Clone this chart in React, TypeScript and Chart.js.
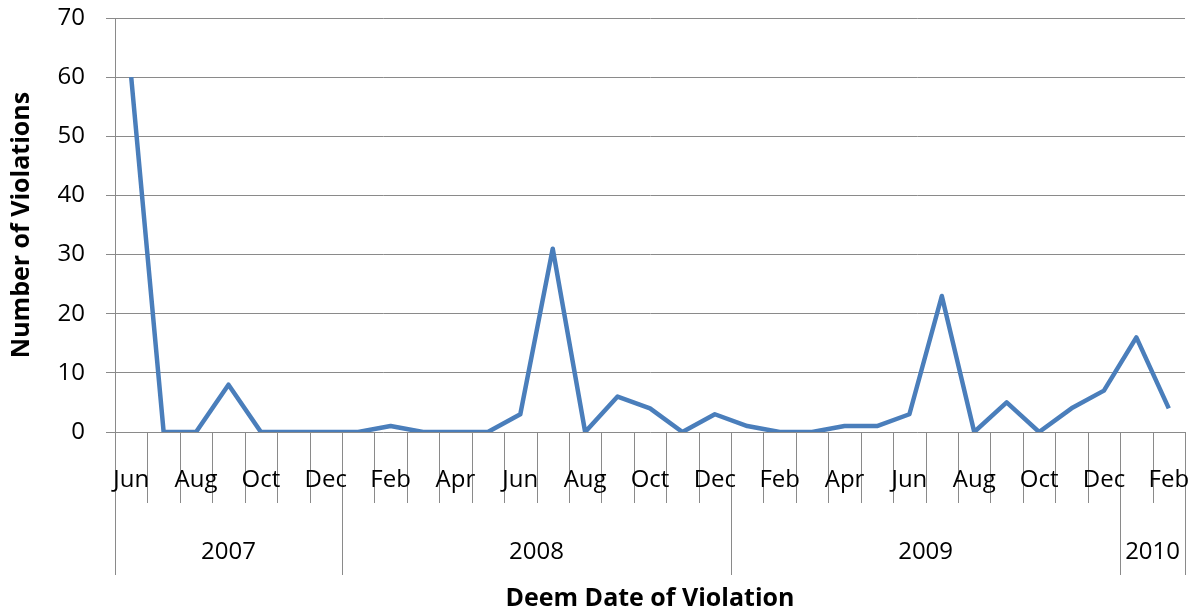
import React, { useEffect, useRef } from "react";
import { Chart, registerables } from "chart.js";

Chart.register(...registerables);

const months = [
  "Jun", "Jul", "Aug", "Sep", "Oct", "Nov", "Dec",
  "Jan", "Feb", "Mar", "Apr", "May", "Jun", "Jul", "Aug", "Sep", "Oct", "Nov", "Dec",
  "Jan", "Feb", "Mar", "Apr", "May", "Jun", "Jul", "Aug", "Sep", "Oct", "Nov", "Dec",
  "Jan", "Feb",
];
const years = ["2007", "2008", "2009", "2010"];
const monthsPerYear = [7, 12, 12, 2];
const violations = [
  60, 0, 0, 8, 0, 0, 0,
  0, 1, 0, 0, 0, 3, 31, 0, 6, 4, 0, 3,
  1, 0, 0, 1, 1, 3, 23, 0, 5, 0, 4, 7,
  16, 4,
];
const yTicks = [0, 10, 20, 30, 40, 50, 60, 70];

const FONT = "'Open Sans', 'DejaVu Sans', sans-serif";
const GRID = "#8a8a8a";
const FS = 24;
const TFS = 25;

const axisDecor = {
  id: "axisDecor",
  afterDraw(chart: any) {
    const { ctx, chartArea } = chart;
    const x = chart.scales.x;
    const n = months.length;
    const half = (x.getPixelForValue(1) - x.getPixelForValue(0)) / 2;
    const boundary = (i: number) =>
      i < n ? x.getPixelForValue(i) - half : x.getPixelForValue(n - 1) + half;
    const yearEdges = new Set<number>();
    let acc = 0;
    yearEdges.add(0);
    monthsPerYear.forEach((c) => {
      acc += c;
      yearEdges.add(acc);
    });
    const base = chartArea.bottom;
    ctx.save();
    ctx.strokeStyle = GRID;
    ctx.lineWidth = 1;
    for (let i = 0; i <= n; i++) {
      const px = Math.round(boundary(i)) + 0.5;
      const end = yearEdges.has(i) ? base + 143 : base + 71;
      ctx.beginPath();
      ctx.moveTo(px, base);
      ctx.lineTo(px, end);
      ctx.stroke();
    }
    ctx.fillStyle = "#000";
    ctx.textAlign = "center";
    ctx.textBaseline = "middle";
    ctx.font = `${FS}px ${FONT}`;
    months.forEach((m, i) => {
      if (i % 2 === 0) ctx.fillText(m, x.getPixelForValue(i), base + 48);
    });
    let start = 0;
    years.forEach((yl, k) => {
      const s = boundary(start);
      const e = boundary(start + monthsPerYear[k]);
      ctx.fillText(yl, (s + e) / 2, base + 120);
      start += monthsPerYear[k];
    });
    ctx.font = `bold ${TFS}px ${FONT}`;
    ctx.fillText("Deem Date of Violation", (chartArea.left + chartArea.right) / 2, base + 167);
    ctx.restore();
  },
};

export default function App() {
  const ref = useRef<HTMLCanvasElement>(null);
  useEffect(() => {
    if (!ref.current) return;
    const chart = new Chart(ref.current, {
      type: "line",
      data: {
        labels: months,
        datasets: [
          {
            data: violations,
            borderColor: "#4a7ebb",
            borderWidth: 4.5,
            pointRadius: 0,
            tension: 0,
            fill: false,
            borderJoinStyle: "round",
            borderCapStyle: "butt",
          },
        ],
      },
      options: {
        responsive: false,
        animation: false,
        events: [],
        layout: { padding: { top: 18, right: 10, left: 0, bottom: 0 } },
        plugins: { legend: { display: false }, tooltip: { enabled: false } },
        scales: {
          x: {
            type: "category",
            offset: true,
            grid: { display: false, drawTicks: false },
            border: { display: false },
            ticks: { display: false },
            afterFit: (s: any) => {
              s.height = 177;
              s.paddingLeft = 0;
              s.paddingRight = 0;
            },
          },
          y: {
            min: 0,
            max: 70,
            afterBuildTicks: (s: any) => {
              s.ticks = yTicks.map((v) => ({ value: v }));
            },
            grid: { color: GRID, lineWidth: 1, tickLength: 9 },
            border: { display: true, color: GRID, width: 1 },
            ticks: {
              color: "#000",
              font: { family: FONT, size: FS },
              padding: 21,
            },
            title: {
              display: true,
              text: "Number of Violations",
              color: "#000",
              font: { family: FONT, size: TFS, weight: "bold" },
              padding: { top: 7, bottom: 0 },
            },
            afterFit: (s: any) => {
              s.width = 115;
              s.paddingTop = 0;
              s.paddingBottom = 0;
            },
          },
        },
      },
      plugins: [axisDecor],
    });
    return () => chart.destroy();
  }, []);
  return (
    <div style={{ position: "fixed", left: 0, top: 0, width: 1195, height: 609, background: "#fff" }}>
      <canvas ref={ref} width={1195} height={609} />
    </div>
  );
}
